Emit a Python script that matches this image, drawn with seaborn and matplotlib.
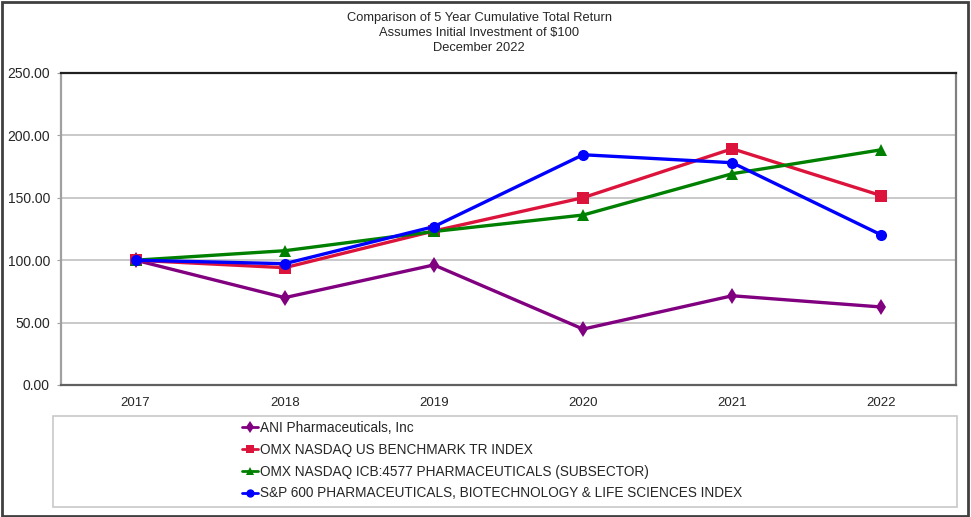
import pandas as pd
import matplotlib.pyplot as plt
import seaborn as sns
from matplotlib.patches import Rectangle

# Values
years = ["2017", "2018", "2019", "2020", "2021", "2022"]
ani = [100.0, 70.0, 96.2, 44.8, 71.5, 62.5]
nasdaq_us = [100.0, 94.0, 123.4, 150.1, 189.3, 151.7]
icb_pharma = [100.0, 107.6, 123.0, 136.2, 169.3, 188.5]
sp600_pharma = [100.0, 97.2, 126.9, 184.5, 178.1, 120.2]

series_names = [
    "ANI Pharmaceuticals, Inc",
    "OMX NASDAQ US BENCHMARK TR INDEX",
    "OMX NASDAQ ICB:4577 PHARMACEUTICALS (SUBSECTOR)",
    "S&P 600 PHARMACEUTICALS, BIOTECHNOLOGY & LIFE SCIENCES INDEX",
]
series_values = [ani, nasdaq_us, icb_pharma, sp600_pharma]
colors = ["#800080", "#DC143C", "#008000", "#0000FF"]
markers = ["d", "s", "^", "o"]
y_ticks = [0, 50, 100, 150, 200, 250]


def main():
    rows = []
    for name, vals in zip(series_names, series_values):
        for i, v in enumerate(vals):
            rows.append({"pos": i, "Year": years[i], "Series": name, "Value": v})
    df = pd.DataFrame(rows)

    sns.set_style("white")
    plt.rcParams["font.family"] = ["Liberation Sans", "DejaVu Sans"]

    fig = plt.figure(figsize=(9.71, 5.17), dpi=100)
    ax = fig.add_axes([61 / 971, 1 - 385 / 517, 895 / 971, 312 / 517])

    # gridlines behind the data
    for t in y_ticks[1:-1]:
        ax.axhline(t, color="#c0c0c0", lw=1.2, zorder=0)

    sns.lineplot(
        data=df,
        x="pos",
        y="Value",
        hue="Series",
        style="Series",
        hue_order=series_names,
        style_order=series_names,
        palette=colors,
        markers=markers,
        dashes=False,
        markersize=8,
        markeredgewidth=0,
        linewidth=2.4,
        ax=ax,
    )
    # the diamond is smaller in the original
    ax.lines[0].set_markersize(6)

    ax.set_xlim(-0.5, 5.5)
    ax.set_ylim(0, 250)
    ax.set_xticks(range(len(years)))
    ax.set_xticklabels(years, fontsize=9.5)
    ax.set_yticks(y_ticks)
    ax.set_yticklabels([f"{t:.2f}" for t in y_ticks], fontsize=10)
    ax.tick_params(axis="y", length=3, color="#a0a0a0", pad=5, left=True)
    ax.tick_params(axis="x", length=0, pad=9)
    ax.set_xlabel("")
    ax.set_ylabel("")

    ax.spines["top"].set_color("#202020")
    ax.spines["top"].set_linewidth(1.6)
    ax.spines["left"].set_color("#a0a0a0")
    ax.spines["left"].set_linewidth(1.6)
    ax.spines["right"].set_color("#808080")
    ax.spines["right"].set_linewidth(1.6)
    ax.spines["bottom"].set_color("#606060")
    ax.spines["bottom"].set_linewidth(1.6)

    # title lines
    title_lines = [
        "Comparison of 5 Year Cumulative Total Return",
        "Assumes Initial Investment of $100",
        "December 2022",
    ]
    for i, line in enumerate(title_lines):
        fig.text(479 / 971, 1 - (18 + 15 * i) / 517, line, ha="center", va="center", fontsize=9.3)

    # legend box and legend
    handles, labels = ax.get_legend_handles_labels()
    ax.get_legend().remove()
    fig.patches.append(
        Rectangle((53 / 971, 1 - 507 / 517), 904 / 971, 91 / 517,
                  transform=fig.transFigure, fill=False, edgecolor="#c8c8c8", lw=1.2)
    )
    leg = fig.legend(
        handles,
        labels,
        loc="upper left",
        bbox_to_anchor=(239 / 971, 1 - 418 / 517),
        frameon=False,
        fontsize=9.8,
        handlelength=1.2,
        handletextpad=0.15,
        labelspacing=0.58,
        borderaxespad=0,
        borderpad=0.2,
    )
    for h in leg.legend_handles:
        h.set_markersize(6)
        h.set_linewidth(2)

    # outer frame
    fig.patches.append(
        Rectangle((1.5 / 971, 1.5 / 517), 966 / 971, 514 / 517,
                  transform=fig.transFigure, fill=False, edgecolor="#404040", lw=2)
    )

    plt.savefig("out.png", dpi=100)
    plt.close()


if __name__ == "__main__":
    main()
